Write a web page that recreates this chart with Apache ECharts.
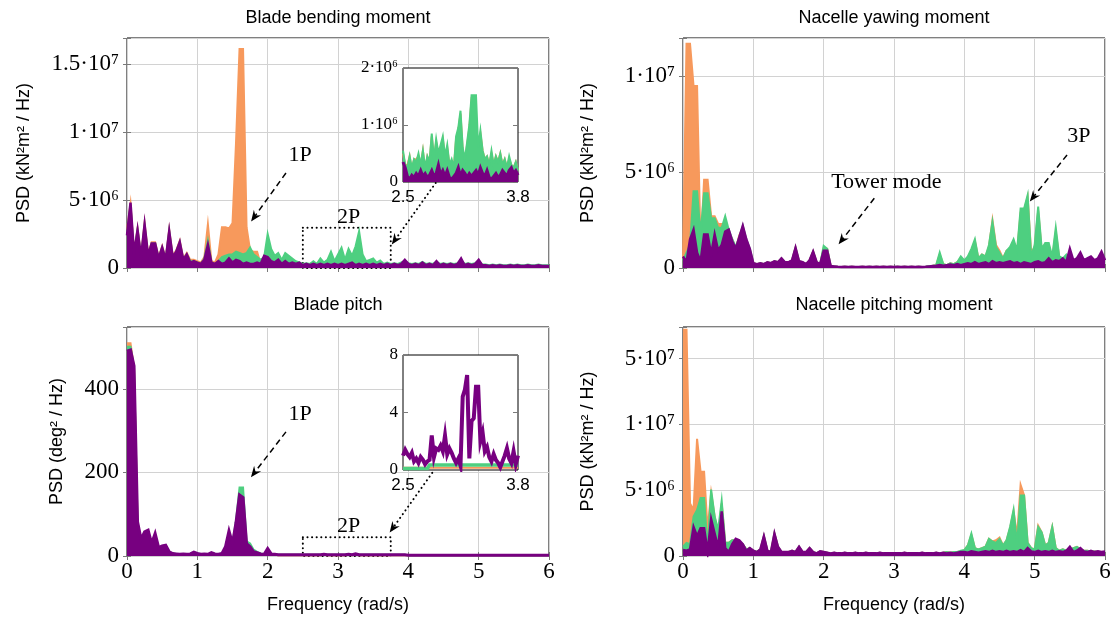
<!DOCTYPE html>
<html><head><meta charset="utf-8">
<script src="https://cdn.jsdelivr.net/npm/echarts@6/dist/echarts.min.js"></script>
<style>html,body{margin:0;padding:0;background:#fff}#c{width:1115px;height:619px}</style>
</head><body><div id="c"></div>
<script>
// ---------- frequency grids (rad/s) ----------
const FREQ = Array.from({length:121}, (_, i) => +(i * 0.05).toFixed(2));      // 0 .. 6
const FREQ_IN = Array.from({length:53}, (_, i) => +(2.5 + i * 0.025).toFixed(3)); // 2.5 .. 3.8

// ---------- Blade bending moment (units of 1e6 kN^2m^2/Hz) ----------
const bbOrange = [2.8,4.7,1.1,2.9,0.9,3.3,1.0,1.9,1.9,0.8,
 1.6,0.7,2.8,0.9,1.3,2.0,0.7,1.1,0.6,0.6,
 0.5,0.4,0.8,3.2,0.5,0.4,1.0,3.0,3.0,2.9,
 3.3,9.2,16.1,16.1,3.0,1.3,1.2,1.2,0.3,0.7,
 0.6,0.4,0.3,0.4,0.3,0.4,0.3,0.3,0.3,0.3,
 0.2,0.3,0.3,0.4,0.3,0.5,0.4,0.5,0.9,0.4,
 0.8,1.2,0.5,1.1,0.8,1.3,2.3,0.8,0.4,0.5,
 0.5,0.3,0.4,0.2,0.3,0.2,0.3,0.2,0.3,0.5,
 0.3,0.2,0.3,0.2,0.4,0.2,0.3,0.2,0.4,0.2,
 0.3,0.2,0.3,0.2,0.3,0.6,0.2,0.3,0.2,0.3,
 0.5,0.2,0.2,0.15,0.2,0.15,0.2,0.15,0.15,0.2,
 0.15,0.15,0.15,0.15,0.15,0.15,0.15,0.15,0.15,0.15,
 0.15];
const bbGreen = [2.5,4.6,1.0,2.8,0.8,3.1,0.9,1.8,1.8,0.7,
 1.5,0.6,2.7,0.8,1.2,1.9,0.6,1.0,0.5,0.5,
 0.4,0.3,0.7,2.0,0.4,0.3,0.5,0.8,0.9,1.0,
 1.0,1.2,1.1,1.0,1.1,1.5,1.0,0.8,0.6,0.8,
 2.5,1.4,0.9,1.1,0.6,1.1,0.9,0.7,0.5,0.4,
 0.3,0.35,0.3,0.5,0.3,0.7,0.4,0.6,1.2,0.5,
 1.0,1.5,0.6,1.4,0.9,1.6,2.7,1.0,0.5,0.6,
 0.7,0.4,0.55,0.3,0.4,0.3,0.35,0.3,0.4,0.5,
 0.35,0.3,0.35,0.3,0.45,0.3,0.35,0.3,0.45,0.3,
 0.35,0.3,0.35,0.3,0.35,0.6,0.3,0.35,0.3,0.35,
 0.5,0.25,0.25,0.2,0.25,0.2,0.25,0.2,0.2,0.25,
 0.2,0.25,0.2,0.2,0.25,0.2,0.2,0.25,0.2,0.2,
 0.2];
const bbPurple = [2.4,4.8,1.0,2.8,0.8,3.2,0.9,1.8,1.8,0.7,
 1.5,0.6,2.7,0.8,1.2,1.9,0.6,1.0,0.4,0.5,
 0.4,0.3,0.6,1.7,0.4,0.3,0.5,0.3,0.4,0.7,
 0.4,0.6,0.5,0.3,0.4,0.3,0.3,0.4,0.3,0.9,
 0.8,0.5,0.4,0.6,0.3,0.5,0.3,0.4,0.3,0.4,
 0.2,0.3,0.2,0.3,0.2,0.3,0.2,0.3,0.2,0.3,
 0.2,0.3,0.2,0.3,0.4,0.2,0.3,0.2,0.3,0.2,
 0.3,0.2,0.3,0.2,0.3,0.2,0.3,0.2,0.3,0.6,
 0.3,0.2,0.3,0.2,0.4,0.2,0.3,0.2,0.5,0.2,
 0.3,0.2,0.3,0.2,0.3,0.7,0.2,0.3,0.2,0.3,
 0.6,0.2,0.2,0.15,0.2,0.15,0.2,0.15,0.15,0.2,
 0.15,0.2,0.15,0.15,0.2,0.15,0.15,0.2,0.15,0.15,
 0.15];
// inset 2.5..3.8
const bbInOrange = [0.5,0.3,0.3,0.45,0.2,0.4,0.4,0.45,0.3,0.55,
 0.2,0.45,0.35,0.8,0.4,0.7,0.5,0.6,0.75,0.45,
 0.6,0.3,0.35,0.25,0.75,0.9,1.2,0.55,0.4,0.65,
 0.95,1.45,1.4,0.5,0.65,0.85,0.55,0.4,0.45,0.3,
 0.5,0.3,0.45,0.35,0.5,0.3,0.4,0.25,0.4,0.3,
 0.25,0.35,0.2];
const bbInGreen = [0.55,0.3,0.25,0.45,0.25,0.4,0.35,0.5,0.3,0.55,
 0.25,0.45,0.35,0.85,0.4,0.75,0.5,0.65,0.8,0.45,
 0.65,0.3,0.4,0.25,0.8,0.95,1.25,0.6,0.4,0.7,
 1.0,1.52,1.52,1.52,0.6,0.9,0.55,0.4,0.45,0.3,
 0.55,0.3,0.45,0.35,0.5,0.3,0.4,0.25,0.45,0.3,
 0.25,0.35,0.2];
const bbInPurple = [0.35,0.25,0.1,0.05,0.12,0.08,0.15,0.1,0.2,0.1,
 0.15,0.08,0.12,0.2,0.1,0.15,0.3,0.12,0.2,0.1,
 0.2,0.08,0.05,0.1,0.15,0.25,0.1,0.2,0.15,0.08,
 0.15,0.1,0.15,0.2,0.12,0.25,0.15,0.1,0.2,0.08,
 0.05,0.1,0.15,0.08,0.12,0.2,0.15,0.1,0.2,0.25,
 0.15,0.2,0.12];

// ---------- Nacelle yawing moment (1e6) ----------
const nyOrange = [0.5,11.7,11.7,9.5,9.5,1.0,4.6,4.6,2.7,2.7,
 2.3,2.3,2.0,1.9,1.5,1.0,1.7,2.1,1.3,0.9,
 0.25,0.2,0.25,0.2,0.3,0.25,0.35,0.3,0.5,0.3,
 0.3,0.4,1.05,0.35,0.3,0.2,0.4,0.85,0.3,0.2,
 1.05,1.0,0.1,0.08,0.06,0.05,0.06,0.05,0.06,0.05,
 0.05,0.06,0.05,0.06,0.05,0.06,0.05,0.06,0.05,0.06,
 0.05,0.06,0.05,0.06,0.05,0.06,0.05,0.06,0.05,0.06,
 0.1,0.12,0.15,0.7,0.2,0.15,0.25,0.2,0.3,0.55,
 0.35,0.55,0.9,1.4,0.5,0.7,0.6,1.1,2.5,1.2,
 0.9,0.5,0.9,1.0,1.4,0.8,2.9,3.0,3.7,0.8,
 1.1,3.0,0.9,1.2,1.2,0.5,1.9,0.5,0.4,0.5,
 0.3,0.3,0.25,0.3,0.3,0.25,0.3,0.25,0.3,0.3,
 0.3];
const nyGreen = [0.4,0.8,1.2,4.0,4.0,1.8,3.9,3.9,2.6,2.6,
 2.1,2.1,2.7,2.0,1.5,1.1,1.6,2.2,1.5,1.0,
 0.25,0.2,0.25,0.2,0.3,0.25,0.35,0.3,0.5,0.3,
 0.3,0.4,1.05,0.35,0.3,0.2,0.4,0.85,0.3,0.2,
 1.15,1.0,0.1,0.08,0.06,0.05,0.06,0.05,0.06,0.05,
 0.05,0.06,0.05,0.06,0.05,0.06,0.05,0.06,0.05,0.06,
 0.05,0.06,0.05,0.06,0.05,0.06,0.05,0.06,0.05,0.06,
 0.1,0.12,0.15,0.8,0.2,0.15,0.25,0.2,0.3,0.6,
 0.4,0.6,1.0,1.5,0.5,0.7,0.6,1.2,2.4,1.1,
 0.8,0.5,0.9,1.1,1.5,0.9,3.1,3.1,3.8,0.6,
 1.2,3.2,1.0,1.3,1.3,0.6,2.1,0.6,0.5,0.7,
 0.4,0.4,0.3,0.35,0.4,0.3,0.35,0.3,0.35,0.3,
 0.35];
const nyPurple = [0.6,0.3,1.5,2.0,0.8,0.35,1.75,1.75,0.7,1.75,
 0.9,1.2,1.9,2.0,1.4,1.0,1.6,2.2,1.5,1.0,
 0.25,0.2,0.25,0.2,0.3,0.25,0.35,0.3,0.5,0.3,
 0.3,0.4,1.05,0.35,0.3,0.2,0.4,0.85,0.3,0.2,
 0.9,0.9,0.1,0.08,0.06,0.05,0.06,0.05,0.06,0.05,
 0.05,0.06,0.05,0.06,0.05,0.06,0.05,0.06,0.05,0.06,
 0.05,0.06,0.05,0.06,0.05,0.06,0.05,0.06,0.05,0.06,
 0.08,0.1,0.12,0.15,0.12,0.15,0.18,0.15,0.2,0.15,
 0.2,0.25,0.2,0.3,0.2,0.25,0.3,0.2,0.35,0.25,
 0.3,0.25,0.3,0.35,0.25,0.3,0.2,0.3,0.25,0.2,
 0.3,0.35,0.25,0.3,0.5,0.3,0.4,0.35,0.5,0.3,
 1.0,0.4,0.5,0.8,0.4,0.5,0.6,0.4,0.5,0.85,
 0.4];

// ---------- Blade pitch (deg^2/Hz) ----------
const bpOrange = [509,509,450,78,38,54,58,28,50,18,
 22,24,9,5,4,3,4,3,4,7,
 5,3,4,3,6,4,3,5,18,50,
 25,10,5,8,20,25,12,8,5,3,
 12,4,3,2,2,2,2,2,2,2,
 2,2,2,2,2,2,3,2,2,2,
 2,2,2,3,2,4,2,2,2,2,
 2,2,2,2,2,2,2,2,2,2,
 2,2,2,2,2,2,2,2,2,2,
 2,2,2,2,2,2,2,2,2,2,
 2,2,2,2,2,2,2,2,2,2,
 2,2,2,2,2,2,2,2,2,2,
 2];
const bpGreen = [501,501,450,80,40,56,60,30,52,20,
 23,25,10,6,5,4,5,4,5,8,
 6,4,5,4,7,5,4,6,20,55,
 30,85,164,164,35,30,15,10,6,4,
 15,5,4,3,3,3,3,3,3,3,
 3,3,3,3,3,3,4,3,3,3,
 3,3,3,4,3,5,3,3,3,3,
 3,3,3,3,3,3,3,3,3,3,
 2,2,2,2,2,2,2,2,2,2,
 2,2,2,2,2,2,2,2,2,2,
 2,2,2,2,2,2,2,2,2,2,
 2,2,2,2,2,2,2,2,2,2,
 2];
const bpPurple = [490,493,455,82,40,58,62,30,54,20,
 24,26,10,6,5,4,5,4,5,9,
 6,4,5,4,8,5,4,6,22,60,
 30,80,146,140,30,22,10,8,5,4,
 18,5,4,3,3,3,3,3,3,3,
 3,3,3,3,3,3,4,3,3,3,
 3,3,3,4,3,5,3,3,3,3,
 3,3,3,3,3,3,3,3,3,3,
 2,2,2,2,2,2,2,2,2,2,
 2,2,2,2,2,2,2,2,2,2,
 2,2,2,2,2,2,2,2,2,2,
 2,2,2,2,2,2,2,2,2,2,
 2];
const bpInOrange = [0.15,0.15,0.15,0.15,0.15,0.15,0.15,0.15,0.15,0.15,
 0.15,0.15,0.15,0.15,0.15,0.15,0.15,0.15,0.15,0.15,
 0.15,0.15,0.15,0.15,0.15,0.15,0.15,0.15,0.15,0.15,
 0.15,0.15,0.15,0.15,0.15,0.15,0.15,0.15,0.15,0.15,
 0.15,0.15,0.15,0.15,0.15,0.15,0.15,0.15,0.15,0.15,
 0.15,0.15,0.15];
const bpInGreen = [0.1,0.1,0.1,0.1,0.1,0.1,0.1,0.1,0.1,0.1,
 0.1,0.1,0.35,0.35,0.35,0.35,0.35,0.35,0.35,0.35,
 0.35,0.35,0.35,0.35,0.35,0.35,0.35,0.35,0.35,0.35,
 0.35,0.35,0.35,0.35,0.35,0.35,0.35,0.35,0.35,0.35,
 0.35,0.35,0.35,0.35,0.35,0.35,0.35,0.35,0.35,0.35,
 0.35,0.35,0.35];
const bpInPurple = [1.0,1.4,1.1,0.9,1.2,0.6,0.8,0.5,0.9,0.7,
 0.4,0.6,0.7,2.4,0.9,1.5,1.4,1.7,1.3,2.4,
 1.1,1.5,1.2,0.8,0.5,0.8,0.3,5.1,5.6,6.6,
 0.8,3.4,3.6,5.8,5.8,2.0,2.6,1.3,1.6,0.9,
 0.6,1.1,0.7,0.5,0.2,0.6,1.0,1.5,0.8,0.5,
 1.3,0.4,1.0];

// ---------- Nacelle pitching moment (1e6) ----------
const npOrange = [17.2,17.2,4.0,3.5,8.9,6.4,6.4,2.0,4.8,3.0,
 1.5,4.0,1.0,1.0,1.2,1.2,1.1,0.9,0.5,0.6,
 0.4,0.3,0.5,1.5,0.4,0.3,1.7,0.7,0.3,0.3,
 0.3,0.4,0.3,0.7,0.3,0.3,0.6,0.3,0.2,0.35,
 0.3,0.25,0.2,0.25,0.2,0.2,0.25,0.2,0.2,0.25,
 0.2,0.2,0.25,0.2,0.2,0.2,0.25,0.2,0.2,0.2,
 0.2,0.2,0.2,0.25,0.2,0.2,0.2,0.2,0.25,0.2,
 0.2,0.2,0.25,0.2,0.25,0.3,0.25,0.3,0.3,0.35,
 0.45,0.8,1.6,0.6,0.5,0.6,0.7,1.3,1.1,1.2,
 1.4,0.8,1.2,2.1,3.4,1.5,5.4,4.6,1.0,0.6,
 0.5,2.3,1.8,0.8,1.0,2.2,0.6,0.4,0.5,0.4,
 0.5,0.6,0.7,0.5,0.4,0.4,0.35,0.35,0.3,0.3,
 0.3];
const npGreen = [0.7,1.0,0.9,3.0,3.5,4.4,4.4,0.5,5.05,3.0,
 2.0,4.2,1.0,1.0,1.2,1.2,1.1,0.9,0.5,0.6,
 0.4,0.3,0.5,1.5,0.4,0.3,1.7,0.7,0.3,0.3,
 0.3,0.4,0.3,0.7,0.3,0.3,0.6,0.3,0.2,0.35,
 0.3,0.25,0.2,0.25,0.2,0.2,0.25,0.2,0.2,0.25,
 0.2,0.2,0.25,0.2,0.2,0.2,0.25,0.2,0.2,0.2,
 0.2,0.2,0.2,0.25,0.2,0.2,0.2,0.2,0.25,0.2,
 0.2,0.2,0.25,0.2,0.25,0.3,0.25,0.3,0.3,0.4,
 0.45,0.8,1.7,0.6,0.5,0.6,0.7,1.3,1.1,1.0,
 1.3,0.8,1.2,2.2,3.5,0.9,4.6,4.6,1.0,0.6,
 0.5,2.2,1.8,0.8,1.0,2.2,0.6,0.4,0.5,0.4,
 0.5,0.6,0.7,0.5,0.4,0.4,0.35,0.35,0.3,0.3,
 0.3];
const npPurple = [0.45,0.4,0.5,2.2,1.5,2.1,2.1,0.3,2.8,1.7,
 0.6,3.4,0.6,0.3,0.9,1.3,1.2,0.9,0.4,0.6,
 0.4,0.3,0.5,1.5,0.4,0.3,1.7,0.7,0.3,0.3,
 0.3,0.4,0.3,0.7,0.3,0.3,0.6,0.3,0.2,0.35,
 0.3,0.25,0.2,0.25,0.2,0.2,0.25,0.2,0.2,0.25,
 0.2,0.2,0.25,0.2,0.2,0.2,0.25,0.2,0.2,0.2,
 0.2,0.2,0.2,0.25,0.2,0.2,0.2,0.2,0.25,0.2,
 0.2,0.2,0.25,0.2,0.25,0.2,0.25,0.2,0.25,0.3,
 0.3,0.25,0.35,0.3,0.25,0.3,0.35,0.3,0.4,0.3,
 0.35,0.3,0.4,0.3,0.35,0.3,0.45,0.3,0.6,0.35,
 0.3,0.4,0.3,0.35,0.3,0.4,0.3,0.35,0.3,0.4,
 0.7,0.3,0.4,0.6,0.35,0.3,0.4,0.3,0.35,0.3,
 0.35];

// ---------- tick labels ----------
const bbTickVals = [0,5,10,15],  bbTickLabels = ['0','5·10⁶','1·10⁷','1.5·10⁷'];
const nyTickVals = [0,5,10],     nyTickLabels = ['0','5·10⁶','1·10⁷'];
const bpTickVals = [0,200,400],  bpTickLabels = ['0','200','400'];
const npTickVals = [0,5,10,15],  npTickLabels = ['0','5·10⁶','1·10⁷','5·10⁷'];
const bbInTickVals = [0,1,2],    bbInTickLabels = ['0','1·10⁶','2·10⁶'];
const bpInTickVals = [0,4,8],    bpInTickLabels = ['0','4','8'];
const inXTicks = [2.5, 3.8];
const xTickVals = [0,1,2,3,4,5,6];

const TITLES = ['Blade bending moment','Nacelle yawing moment','Blade pitch','Nacelle pitching moment'];
const YNAME_M = 'PSD (kN²m² / Hz)', YNAME_P = 'PSD (deg² / Hz)', XNAME = 'Frequency (rad/s)';

// ---------- styling / layout ----------
const SERIF = "'Liberation Serif','DejaVu Serif',serif";
const SANS = "'Liberation Sans','DejaVu Sans',sans-serif";
const C_OR = '#F7995C', C_GR = '#4ECF80', C_PU = '#770080';
const GRID_COLOR = '#d2d2d2', TICK_COLOR = '#7a7a7a';

const grids = [
  {left:127, top:38,  width:422, height:230},
  {left:683, top:38,  width:422, height:230},
  {left:127, top:327, width:422, height:229},
  {left:683, top:327, width:422, height:229},
  {left:403, top:68,  width:115, height:114, z:20, zlevel:1},
  {left:403, top:355, width:115, height:115, z:20, zlevel:1}
].map(g => Object.assign({show:true, borderColor:'#000', borderWidth:1, backgroundColor:'#fff'}, g));

const xAxis = [], yAxis = [], series = [];
const fmt = (vals, labels) => v => { const i = vals.findIndex(t => Math.abs(t - v) < 1e-9); return i >= 0 ? labels[i] : ''; };

function mainPanel(g, ymax, yint, tv, tl, yname, ygap, showX) {
  xAxis.push({type:'value', gridIndex:g, min:0, max:6, interval:1, position:'bottom',
    axisLine:{show:false}, axisTick:{show:true, inside:true, length:4, lineStyle:{color:TICK_COLOR}},
    splitLine:{show:true, lineStyle:{color:GRID_COLOR, width:1}},
    axisLabel:{show:showX, fontFamily:SERIF, fontSize:23, color:'#000', margin:4, formatter: fmt(xTickVals, xTickVals.map(String))},
    name: showX ? XNAME : '', nameLocation:'middle', nameGap:40,
    nameTextStyle:{fontFamily:SANS, fontSize:18, color:'#000'}});
  const xi = xAxis.length - 1;
  xAxis.push({type:'value', gridIndex:g, min:0, max:6, interval:1, position:'top',
    axisLine:{show:false}, axisTick:{show:true, inside:true, length:4, lineStyle:{color:TICK_COLOR}},
    splitLine:{show:false}, axisLabel:{show:false}});
  yAxis.push({type:'value', gridIndex:g, min:0, max:ymax, interval:yint, position:'left',
    axisLine:{show:false}, axisTick:{show:true, inside:true, length:4, lineStyle:{color:TICK_COLOR}},
    splitLine:{show:true, lineStyle:{color:GRID_COLOR, width:1}},
    axisLabel:{fontFamily:SERIF, fontSize:23, color:'#000', margin:8, formatter: fmt(tv, tl)},
    name: yname, nameLocation:'middle', nameGap: ygap,
    nameTextStyle:{fontFamily:SANS, fontSize:18, color:'#000'}});
  const yi = yAxis.length - 1;
  yAxis.push({type:'value', gridIndex:g, min:0, max:ymax, interval:yint, position:'right',
    axisLine:{show:false}, axisTick:{show:true, inside:true, length:4, lineStyle:{color:TICK_COLOR}},
    splitLine:{show:false}, axisLabel:{show:false}});
  return [xi, yi];
}

function insetPanel(g, ymax, yint, tv, tl) {
  xAxis.push({type:'value', gridIndex:g, min:2.5, max:3.8, position:'bottom', zlevel:1, z:21,
    axisLine:{show:false}, axisTick:{show:false}, splitLine:{show:false},
    axisLabel:{customValues: inXTicks, fontFamily:SANS, fontSize:17, color:'#000', margin:7, formatter: v => v.toFixed(1)}});
  const xi = xAxis.length - 1;
  yAxis.push({type:'value', gridIndex:g, min:0, max:ymax, interval:yint, position:'left', zlevel:1, z:21,
    axisLine:{show:false}, axisTick:{show:true, inside:true, length:5, lineStyle:{color:TICK_COLOR}},
    splitLine:{show:false},
    axisLabel:{fontFamily:SERIF, fontSize:17, color:'#000', margin:5, formatter: fmt(tv, tl)}});
  const yi = yAxis.length - 1;
  yAxis.push({type:'value', gridIndex:g, min:0, max:ymax, interval:yint, position:'right', zlevel:1, z:21,
    axisLine:{show:false}, axisTick:{show:true, inside:true, length:5, lineStyle:{color:TICK_COLOR}},
    splitLine:{show:false}, axisLabel:{show:false}});
  return [xi, yi];
}

function area(color, xs, ys, axes, width, z, extra, noFill) {
  const s = {type:'line', xAxisIndex:axes[0], yAxisIndex:axes[1], z,
    data: ys.map((v, i) => [xs[i], v]), symbol:'none', silent:true, animation:false,
    lineStyle:{color, width, join:'miter'}, itemStyle:{color}};
  if (!noFill) s.areaStyle = {color, opacity:1};
  return Object.assign(s, extra || {});
}

const ARROW = 'path://M0,12 L5,0 L10,12 L5,8 Z';
function annot(arrows, texts, rect) {
  const o = {
    markLine:{silent:true, animation:false, symbol:['none', ARROW], symbolSize:[9,11],
      label:{show:false}, lineStyle:{color:'#000', width:1.5, type:[6,4]},
      data: arrows.map(a => [{coord:a.from, lineStyle:a.dot ? {color:'#000', width:2, type:[0.1,4.5], cap:'round'} : {color:'#000', width:1.5, type:[6,4]}}, {coord:a.to}])},
    markPoint:{silent:true, animation:false, symbol:'rect', symbolSize:1, itemStyle:{color:'rgba(0,0,0,0)'},
      label:{show:true, position:'inside', color:'#000', fontFamily:SERIF, fontSize:22, formatter: p => p.name},
      data: texts.map(t => ({name:t.text, coord:t.at}))}
  };
  if (rect) o.markArea = {silent:true, animation:false,
    itemStyle:{color:'rgba(0,0,0,0)', borderColor:'#000', borderWidth:2, borderType:[0.1,4.5], borderCap:'round'},
    data:[[{coord:rect[0]}, {coord:rect[1]}]]};
  return o;
}

// Panels
const aBB = mainPanel(0, 16.9, 5, bbTickVals, bbTickLabels, YNAME_M, 94, false);
const aNY = mainPanel(1, 12.0, 5, nyTickVals, nyTickLabels, YNAME_M, 86, false);
const aBP = mainPanel(2, 548, 200, bpTickVals, bpTickLabels, YNAME_P, 61, true);
const aNP = mainPanel(3, 17.4, 5, npTickVals, npTickLabels, YNAME_M, 86, true);
const aBBi = insetPanel(4, 2, 1, bbInTickVals, bbInTickLabels);
const aBPi = insetPanel(5, 8, 4, bpInTickVals, bpInTickLabels);

series.push(area(C_OR, FREQ, bbOrange, aBB, 2, 2));
series.push(area(C_GR, FREQ, bbGreen, aBB, 2, 3));
series.push(area(C_PU, FREQ, bbPurple, aBB, 2.5, 4, annot(
  [{from:[2.26,6.98], to:[1.81,3.75]}, {from:[4.39,6.25], to:[3.81,2.06], dot:true}],
  [{text:'1P', at:[2.46,8.3]}, {text:'2P', at:[3.15,3.75]}],
  [[2.5,2.95],[3.75,0]])));

series.push(area(C_OR, FREQ, nyOrange, aNY, 2, 2));
series.push(area(C_GR, FREQ, nyGreen, aNY, 2, 3));
series.push(area(C_PU, FREQ, nyPurple, aNY, 2.5, 4, annot(
  [{from:[2.72,3.64], to:[2.26,1.46]}, {from:[5.46,5.9], to:[4.98,3.7]}],
  [{text:'Tower mode', at:[2.89,4.5]}, {text:'3P', at:[5.63,6.85]}], null)));

series.push(area(C_OR, FREQ, bpOrange, aBP, 2, 2));
series.push(area(C_GR, FREQ, bpGreen, aBP, 2, 3));
series.push(area(C_PU, FREQ, bpPurple, aBP, 3, 4, annot(
  [{from:[2.26,297], to:[1.81,199]}, {from:[4.34,199], to:[3.78,67], dot:true}],
  [{text:'1P', at:[2.46,340]}, {text:'2P', at:[3.15,72]}],
  [[2.5,45],[3.75,0]])));

series.push(area(C_OR, FREQ, npOrange, aNP, 2, 2));
series.push(area(C_GR, FREQ, npGreen, aNP, 2, 3));
series.push(area(C_PU, FREQ, npPurple, aNP, 2.5, 4));

[[bbInOrange, C_OR, 2, 22],[bbInGreen, C_GR, 2, 23],[bbInPurple, C_PU, 3, 24]].forEach(([d,c,w,z]) =>
  series.push(area(c, FREQ_IN, d, aBBi, w, z, {zlevel:1})));
[[bpInOrange, C_OR, 2, 22],[bpInGreen, C_GR, 3.5, 23],[bpInPurple, C_PU, 4, 24]].forEach(([d,c,w,z]) =>
  series.push(area(c, FREQ_IN, d, aBPi, w, z, {zlevel:1}, true)));

const titlePos = [[338,18],[894,18],[338,305],[894,305]];
const graphic = TITLES.map((t, i) => ({type:'text', x:titlePos[i][0], y:titlePos[i][1], silent:true,
  style:{text:t, align:'center', verticalAlign:'middle', fontFamily:SANS, fontSize:18, fill:'#000'}}));

const chart = echarts.init(document.getElementById('c'));
chart.setOption({animation:false, backgroundColor:'#fff', grid:grids, xAxis, yAxis, series, graphic});
</script></body></html>
